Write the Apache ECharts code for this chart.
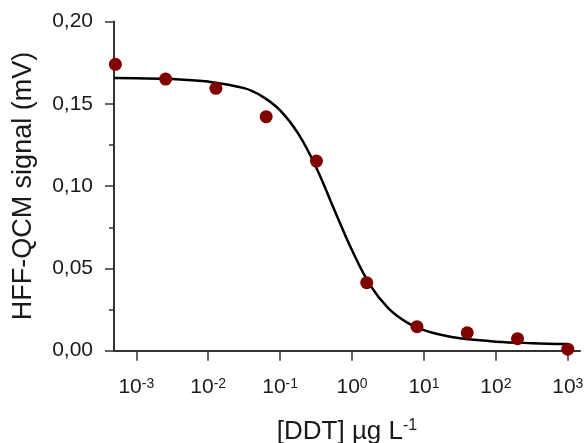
<!DOCTYPE html>
<html>
<head>
<meta charset="utf-8">
<script src="https://cdn.jsdelivr.net/npm/echarts@6/dist/echarts.min.js"></script>
<style>
  html, body { margin: 0; padding: 0; background: #ffffff; }
  #chart { width: 587px; height: 443px; }
</style>
</head>
<body>
<div id="chart"></div>
<script>
// DDT concentration (µg/L), 5-fold dilution series
const concentrations = [0.000512, 0.00256, 0.0128, 0.064, 0.32, 1.6, 8, 40, 200, 1000];
// HFF-QCM signal (mV) at each concentration
const signals = [0.174, 0.165, 0.1594, 0.1422, 0.1152, 0.0413, 0.0146, 0.0109, 0.0073, 0.0009];
// fitted curve: log10 concentration and signal
const curveLog10Conc = [-3.31, -3, -2.5, -2, -1.5, -1.25, -1, -0.75, -0.5, -0.25, 0, 0.25, 0.5, 0.75, 1, 1.25, 1.5, 2, 2.5, 3];
const curveSignal = [0.1656, 0.1655, 0.1650, 0.1635, 0.1595, 0.1545, 0.1460, 0.1320, 0.1115, 0.0860, 0.0610, 0.0400, 0.0260, 0.0175, 0.0125, 0.0095, 0.0075, 0.0055, 0.0046, 0.0041];
// x tick exponents (decades) and y tick values
const xTickExponents = [-3, -2, -1, 0, 1, 2, 3];
const yTicks = [0, 0.05, 0.10, 0.15, 0.20];

const FONT = '"Liberation Sans", Arial, sans-serif';
const TXT = '#1a1a1a';
const AX = '#333333';

const chart = echarts.init(document.getElementById('chart'), null, { renderer: 'canvas' });

const pointData = concentrations.map((c, i) => [Math.log10(c), signals[i]]);
const curveData = curveLog10Conc.map((l, i) => [l, curveSignal[i]]);

chart.setOption({
  animation: false,
  backgroundColor: '#ffffff',
  grid: { left: 114, right: 7, top: 21.5, bottom: 92.3, containLabel: false, outerBoundsMode: 'none' },
  xAxis: {
    type: 'value',
    min: -3.31,
    max: 3.17,
    splitLine: { show: false },
    axisLine: { show: true, onZero: false, lineStyle: { color: AX, width: 2 } },
    axisTick: { show: true, length: 10, lineStyle: { color: AX, width: 1.5 }, customValues: xTickExponents },
    axisLabel: {
      customValues: xTickExponents,
      margin: 26,
      formatter: v => '{n|10}{s|' + String(Math.round(v)) + '}',
      rich: {
        n: { fontFamily: FONT, fontSize: 21, color: TXT, lineHeight: 22 },
        s: { fontFamily: FONT, fontSize: 14, color: TXT, lineHeight: 14, verticalAlign: 'top' }
      }
    },
    name: '{n|[DDT] µg L}{s|-1}',
    nameLocation: 'middle',
    nameGap: 67,
    nameTextStyle: {
      rich: {
        n: { fontFamily: FONT, fontSize: 26, color: TXT, lineHeight: 28 },
        s: { fontFamily: FONT, fontSize: 16, color: TXT, lineHeight: 16, verticalAlign: 'top' }
      }
    }
  },
  yAxis: {
    type: 'value',
    min: yTicks[0],
    max: yTicks[yTicks.length - 1],
    interval: 0.05,
    splitLine: { show: false },
    axisLine: { show: true, onZero: false, lineStyle: { color: AX, width: 2 } },
    axisTick: { show: true, length: 9, lineStyle: { color: AX, width: 1.5 } },
    minorTick: { show: true, splitNumber: 2, length: 5, lineStyle: { color: AX, width: 1.5 } },
    axisLabel: {
      margin: 21,
      fontFamily: FONT,
      fontSize: 21,
      color: TXT,
      formatter: v => v.toFixed(2).replace('.', ',')
    },
    name: 'HFF-QCM signal (mV)',
    nameLocation: 'middle',
    nameRotate: 90,
    nameGap: 77,
    nameTextStyle: { fontFamily: FONT, fontSize: 27, color: TXT }
  },
  series: [
    {
      type: 'line',
      data: curveData,
      smooth: 0.4,
      showSymbol: false,
      lineStyle: { color: '#000000', width: 2.5 },
      z: 2
    },
    {
      type: 'scatter',
      data: pointData,
      symbol: 'circle',
      symbolSize: 13,
      clip: false,
      itemStyle: { color: '#800000', opacity: 1 },
      z: 3
    }
  ]
});
</script>
</body>
</html>
